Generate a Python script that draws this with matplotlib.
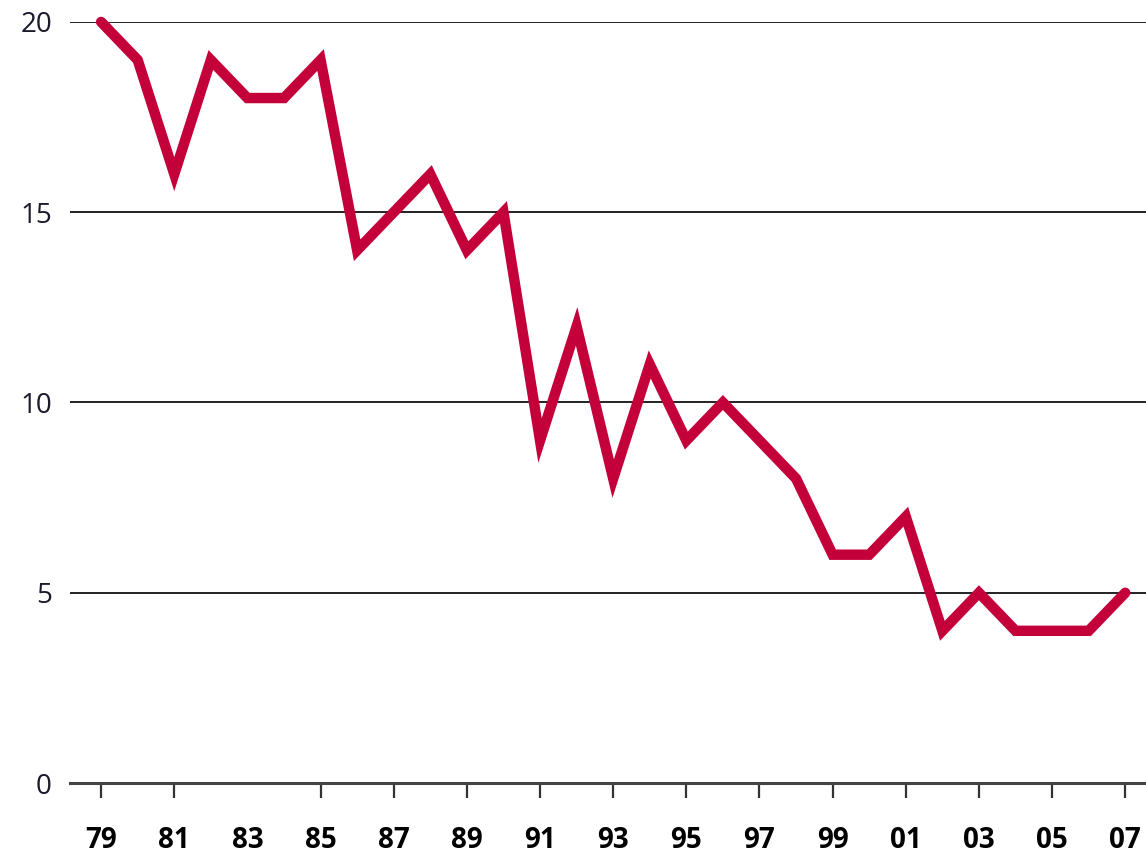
import matplotlib
matplotlib.use("Agg")
import matplotlib.pyplot as plt

# Values
years = list(range(1979, 2008))
values = [20, 19, 16, 19, 18, 18, 19, 14, 15, 16, 14, 15, 9, 12, 8, 11,
          9, 10, 9, 8, 6, 6, 7, 4, 5, 4, 4, 4, 5]
tick_years = [y for y in range(1979, 2008, 2) if y != 1983]
tick_labels = [str(y)[2:] for y in tick_years]
y_ticks = [0, 5, 10, 15, 20]

plt.rcParams['font.family'] = ['Open Sans', 'DejaVu Sans']

fig = plt.figure(figsize=(11.46, 8.6), dpi=100)
ax = fig.add_axes([0.0611, 0.0895, 0.939, 0.885])

# horizontal gridlines
for v in y_ticks[1:]:
    ax.axhline(v, color='#222222', lw=1.4, zorder=1)

ax.plot(years, values, color='#C4003A', lw=7.5, solid_joinstyle='miter',
        solid_capstyle='round', clip_on=False, zorder=3)

ax.set_xlim(1978.15, 2007.57)
ax.set_ylim(0, 20)

for s in ['top', 'right', 'left']:
    ax.spines[s].set_visible(False)
ax.spines['bottom'].set_color('#444444')
ax.spines['bottom'].set_linewidth(2.2)

ax.set_yticks(y_ticks)
ax.set_yticklabels([str(v) for v in y_ticks], fontsize=20, color='#1a1a2a')
ax.tick_params(axis='y', length=0, pad=13)

ax.set_xticks(tick_years)
ax.set_xticklabels(tick_labels, fontsize=20, fontweight='bold')
ax.tick_params(axis='x', length=11, width=1.6, color='#333333',
               direction='out', pad=20)
# the reference has a label but no tick mark at 83
ax.set_xticks([1983], minor=True)
ax.set_xticklabels(['83'], minor=True, fontsize=20, fontweight='bold')
ax.tick_params(axis='x', which='minor', length=0, pad=31)

fig.savefig('out.png', dpi=100)
